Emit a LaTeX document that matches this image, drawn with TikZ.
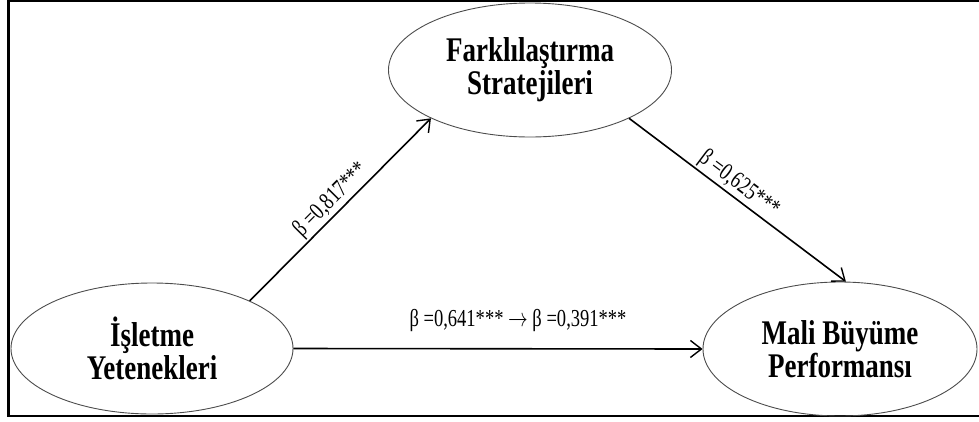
\documentclass[tikz,border=0pt]{standalone}
\usepackage{fontspec}
\usepackage{graphicx}
\setmainfont{Liberation Serif}
\usetikzlibrary{shapes.geometric,arrows.meta}
\newcommand{\tallbold}[1]{\scalebox{1}[1.28]{#1}}
\newcommand{\talltext}[1]{\scalebox{0.95}[1.25]{#1}}
\begin{document}
\begin{tikzpicture}[x=1pt,y=-1pt,
  var/.style={draw=black!70,line width=0.9pt,ellipse,inner sep=0pt,align=center,
    font=\fontsize{27}{33}\selectfont\bfseries},
  path/.style={line width=1.6pt,-{Straight Barb[length=11pt,width=17pt,line width=1.4pt]}},
  coef/.style={font=\fontsize{19.5}{22}\selectfont,inner sep=1.5pt}]
\useasboundingbox (0,0) rectangle (979,421);
\clip (0,0) rectangle (979,421);
\draw[line width=2.4pt] (8.3,1) rectangle (990,416);
\node[var,minimum width=283pt,minimum height=134pt] (T) at (530,70) {\tallbold{Farklılaştırma}\\\tallbold{Stratejileri}};
\node[var,minimum width=282pt,minimum height=131pt] (L) at (152,348.5) {\tallbold{İşletme}\\\tallbold{Yetenekleri}};
\node[var,minimum width=274pt,minimum height=134pt] (R) at (840,349) {\tallbold{Mali Büyüme}\\\tallbold{Performansı}};
\draw[path] (L.26) -- node[coef,above,sloped] (l1) {\talltext{β =0,817***}} (T.206);
\draw[path] (T.334.6) -- node[coef,above,sloped,pos=0.47] (l2) {\talltext{β =0,625***}} (R.85);
\draw[path] (L.east) -- (R.west);
\node[coef] (l3) at (518,321) {\talltext{β =0,641*** $\rightarrow$ β =0,391***}};
\end{tikzpicture}
\end{document}
